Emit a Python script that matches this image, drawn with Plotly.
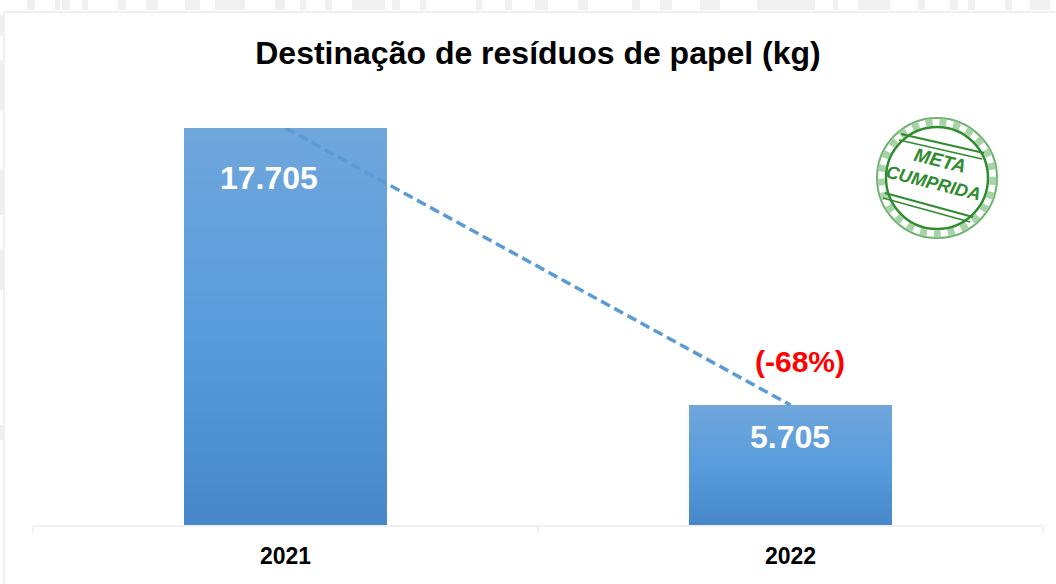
import plotly.graph_objects as go

# Data
years = ["2021", "2022"]
bar_heights = [17705, 5350]          # drawn height
bar_labels = ["17.705", "5.705"]     # printed labels
change_label = "(-68%)"
title_text = "Destinação de resíduos de papel (kg)"

FONT = "Liberation Sans"
BANDS = 60
STOPS = [(0.0, (70, 135, 201)), (0.45, (86, 155, 220)), (1.0, (112, 166, 220))]
W, H = 1056, 584
PL, PR, PT, PB = 33, 1043, 128, 525


def shade(t):
    for (t0, c0), (t1, c1) in zip(STOPS, STOPS[1:]):
        if t <= t1:
            f = (t - t0) / (t1 - t0)
            return "rgb(%d,%d,%d)" % tuple(round(a + (b - a) * f) for a, b in zip(c0, c1))
    return "rgb(%d,%d,%d)" % STOPS[-1][1]


def px(x):
    return (x - PL) / (PR - PL)


def py(y):
    return (PB - y) / (PB - PT)


fig = go.Figure()

# each bar is a stack of thin bands to carry the vertical gradient
for k in range(BANDS):
    fig.add_trace(go.Bar(
        x=years,
        y=[v / BANDS for v in bar_heights],
        width=0.402,
        marker=dict(color=shade((k + 0.5) / BANDS), line=dict(width=0)),
        showlegend=False,
        hoverinfo="skip",
    ))

fig.add_trace(go.Scatter(
    x=years, y=bar_heights, mode="lines",
    line=dict(color="#5b9bd5", width=3.5, dash="10px,5px"),
    showlegend=False, hoverinfo="skip",
))

shapes = []
GRAY = "#f0f0f0"


def rect(x0, y0, x1, y1, color=GRAY):
    shapes.append(dict(type="rect", xref="paper", yref="paper", layer="below",
                       x0=px(x0), x1=px(x1), y0=py(y0), y1=py(y1),
                       fillcolor=color, line=dict(width=0)))


# faint frame of the slide background
rect(3, 11, 1056, 13)
rect(3, 11, 5, 584)
# faint patterned strip above the frame
for x0, x1 in [(27, 35), (55, 60), (62, 70), (82, 88), (118, 126), (146, 158),
               (185, 200), (215, 245), (275, 285), (300, 306), (325, 332),
               (352, 385), (392, 400), (420, 426), (476, 482), (505, 512),
               (535, 548), (578, 588), (632, 640), (660, 672), (700, 720),
               (757, 815), (833, 838), (858, 890), (918, 925), (950, 958),
               (968, 975), (1005, 1012), (1030, 1050)]:
    rect(x0, 0, x1, 10)
for y0, y1 in [(15, 36), (60, 110), (170, 215), (250, 290), (425, 440)]:
    rect(0, y0, 3, y1)


def ring(cx, cy, r, width, color, dash="solid"):
    shapes.append(dict(type="circle", xref="paper", yref="paper",
                       x0=px(cx - r), x1=px(cx + r), y0=py(cy + r), y1=py(cy - r),
                       line=dict(color=color, width=width, dash=dash)))


def seg(x0, y0, x1, y1, width, color):
    shapes.append(dict(type="line", xref="paper", yref="paper",
                       x0=px(x0), x1=px(x1), y0=py(y0), y1=py(y1),
                       line=dict(color=color, width=width)))


# "META CUMPRIDA" stamp
GREEN = "#2e8b2e"
CX, CY = 937, 178
ring(CX, CY, 60, 2, "#6fb26f")
ring(CX, CY, 56, 7, "#a8d2a8", "dot")
ring(CX, CY, 51, 2.5, GREEN)
seg(901, 134, 984, 153, 2, GREEN)
seg(899, 140, 982, 159, 1.5, GREEN)
seg(885, 193, 973, 217, 2, GREEN)
seg(883, 198, 970, 222, 1.5, GREEN)

annotations = [
    dict(x=0, y=bar_heights[0], xref="x", yref="y", text="<b>%s</b>" % bar_labels[0],
         xshift=-17, yshift=-50, showarrow=False, font=dict(family=FONT, size=32, color="white")),
    dict(x=1, y=bar_heights[1], xref="x", yref="y", text="<b>%s</b>" % bar_labels[1],
         xshift=-1, yshift=-32, showarrow=False, font=dict(family=FONT, size=32, color="white")),
    dict(x=1, y=bar_heights[1], xref="x", yref="y", text="<b>%s</b>" % change_label,
         xshift=9, yshift=44, showarrow=False, font=dict(family=FONT, size=30, color="#ff0000")),
    dict(x=px(940), y=py(160), xref="paper", yref="paper", text="<b><i>META</i></b>", textangle=14,
         xanchor="center", yanchor="middle", showarrow=False,
         font=dict(family=FONT, size=19, color=GREEN)),
    dict(x=px(933), y=py(183), xref="paper", yref="paper", text="<b><i>CUMPRIDA</i></b>", textangle=14,
         xanchor="center", yanchor="middle", showarrow=False,
         font=dict(family=FONT, size=18, color=GREEN)),
]

fig.update_layout(
    width=W, height=H, autosize=False,
    margin=dict(l=PL, r=W - PR, t=PT, b=H - PB, pad=0),
    paper_bgcolor="white", plot_bgcolor="white",
    barmode="stack", bargap=0.6,
    title=dict(text="<b>%s</b>" % title_text, x=0.5, xref="paper", xanchor="center",
               y=1 - 53 / H, yanchor="middle", yref="container",
               font=dict(family=FONT, size=32, color="black")),
    xaxis=dict(type="category", categoryorder="array", categoryarray=years,
               range=[-0.5, 1.5], automargin=False, tickangle=0,
               showgrid=False, showline=True, linecolor=GRAY, linewidth=2,
               ticks="outside", tickson="boundaries", ticklen=6, tickcolor=GRAY, tickwidth=2,
               ticklabelstandoff=9,
               tickfont=dict(family=FONT, size=23, color="black"),
               tickprefix="<b>", ticksuffix="</b>"),
    yaxis=dict(range=[0, bar_heights[0]], visible=False),
    shapes=shapes,
    annotations=annotations,
)

fig.write_html("out.html", config={"displayModeBar": False},
               post_script="document.body.style.margin='0';")
